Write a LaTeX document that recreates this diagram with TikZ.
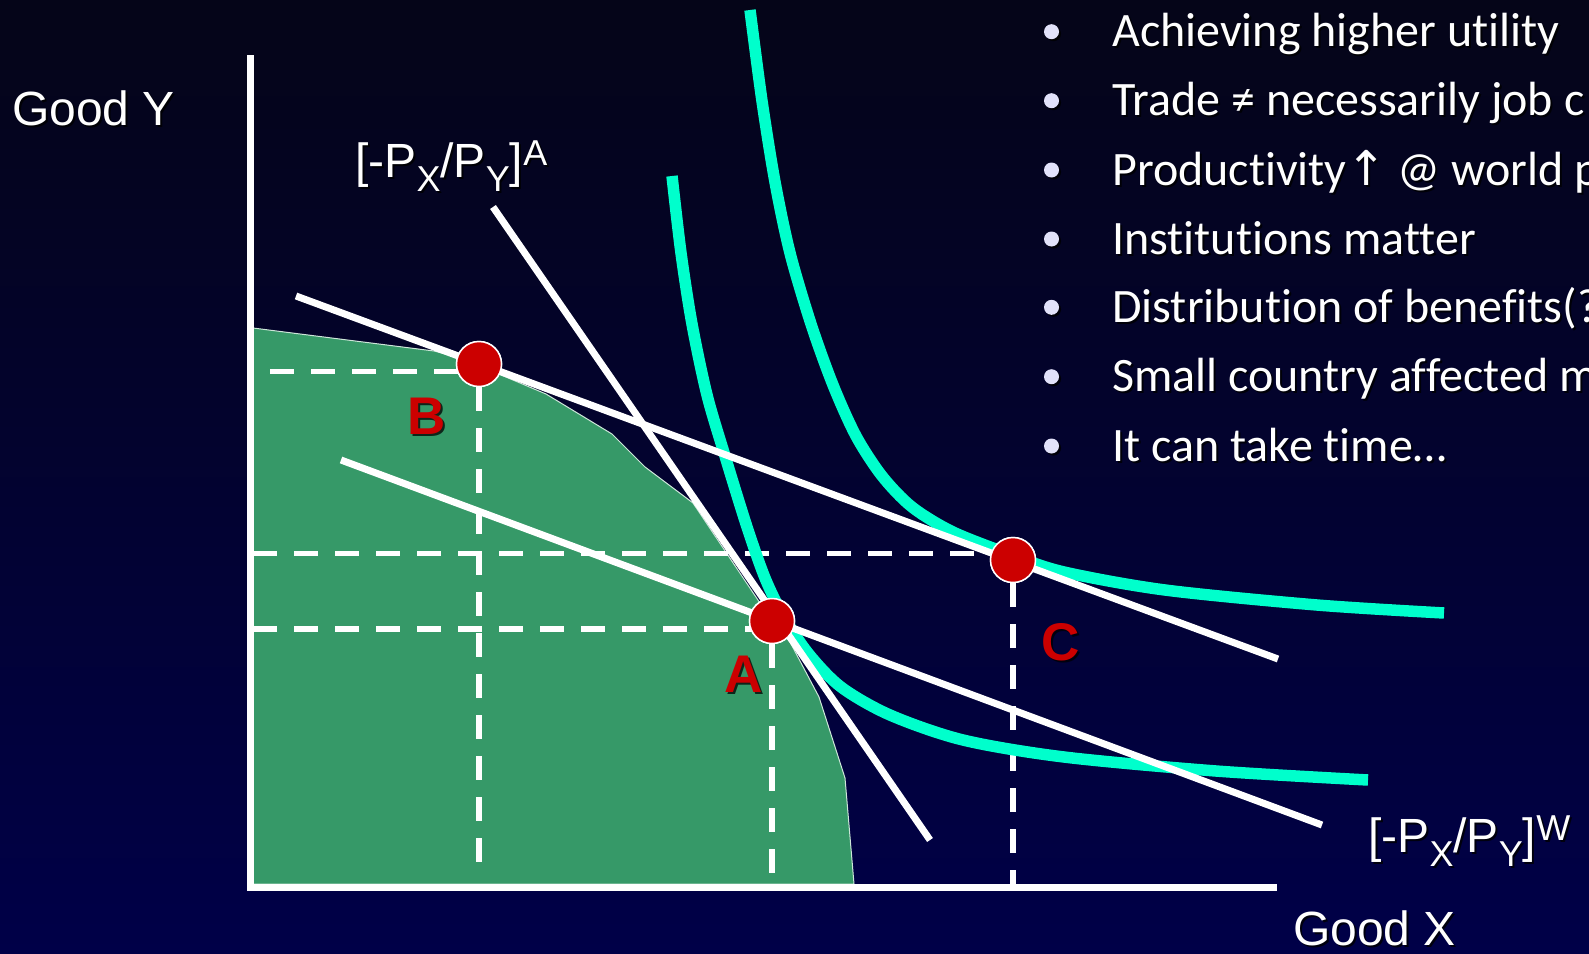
\documentclass[tikz,border=0pt]{standalone}
\usepackage{fontspec}
\setmainfont{Liberation Sans}
\newfontfamily\bulletfont[Ligatures={NoCommon}]{Carlito}
\newfontfamily\symfont{DejaVu Sans}
\definecolor{bgtop}{RGB}{5,5,24}
\definecolor{bgbot}{RGB}{0,0,72}
\definecolor{ppfgreen}{RGB}{54,153,104}
\definecolor{iccyan}{RGB}{0,255,204}
\definecolor{dotred}{RGB}{204,0,0}
\definecolor{dotlav}{RGB}{226,226,250}
\newcommand{\priceratio}[1]{[-P\raisebox{-14pt}{\fontsize{36}{38}\selectfont X}/P\raisebox{-14pt}{\fontsize{36}{38}\selectfont Y}]\raisebox{12pt}{\fontsize{36}{38}\selectfont #1}}
\begin{document}
\begin{tikzpicture}[x=1pt,y=-1pt,
  solidline/.style={draw=white,line width=7pt},
  axisline/.style={draw=white,line width=7pt},
  dashline/.style={draw=white,line width=5.5pt,dash pattern=on 24pt off 17pt},
  iccurve/.style={draw=iccyan,line width=11.5pt},
  ptdot/.style={circle,fill=dotred,draw=white,line width=1.5pt,minimum size=45pt,inner sep=0pt},
  ptlabel/.style={font=\fontsize{53}{60}\selectfont\bfseries,text=dotred,inner sep=0pt,anchor=base},
  ptshadow/.style={font=\fontsize{53}{60}\selectfont\bfseries,text=black,opacity=0.75,inner sep=0pt,anchor=base},
  axlabel/.style={font=\fontsize{48}{52}\selectfont,text=white,inner sep=0pt,anchor=base west},
  axshadow/.style={font=\fontsize{48}{52}\selectfont,text=black,opacity=0.8,inner sep=0pt,anchor=base west},
  btext/.style={font=\bulletfont\fontsize{48}{52}\selectfont,text=white,inner sep=0pt,anchor=base west},
  bshadow/.style={font=\bulletfont\fontsize{48}{52}\selectfont,text=black,opacity=0.8,inner sep=0pt,anchor=base west},
  bdot/.style={circle,fill=dotlav,minimum size=15pt,inner sep=0pt},
  bdotshadow/.style={circle,fill=black,opacity=0.8,minimum size=15pt,inner sep=0pt}
]
\useasboundingbox (0,0) rectangle (1589,953);
% background
\shade[top color=bgtop,bottom color=bgbot] (0,0) rectangle (1589,953);

% production possibility region
\fill[ppfgreen,draw=white!75!ppfgreen,line width=1pt]
  (253,328) -- (434,351) -- (461,358) -- (546,394) -- (612,434) -- (645,467)
  -- (693,503) -- (772,621) -- (790,642) -- (819,697) -- (845,778) -- (854,884)
  -- (253,884) -- cycle;

% points
\node[ptdot] (B) at (479,364) {};
\node[ptdot] (A) at (772,621) {};
\node[ptdot] (C) at (1013,560) {};

% coordinates
\coordinate (ytop) at (250,55);
\coordinate (orig) at (250,887);
\coordinate (xend) at (1277,887);
\coordinate (Bh) at (270,371.5);
\coordinate (Ch) at (253,553.5);
\coordinate (Ah) at (253,629);
\coordinate (Bv) at (477,869);
\coordinate (Av) at (774,887);
\coordinate (Cv) at (1012,887);
\coordinate (s1) at (493,207);
\coordinate (s2) at (930,840);
\coordinate (w1) at (296,296);
\coordinate (w2) at (1278,659);
\coordinate (w3) at (341,460);
\coordinate (w4) at (1322,825);

% dashed guides
\draw[dashline] (Bh) -- (Bh -| B);
\draw[dashline] (B) -- (B |- Bv);
\draw[dashline] (Ch) -- (Ch -| C);
\draw[dashline] (Ah) -- (Ah -| A);
\draw[dashline] (A) -- (A |- Av);
\draw[dashline] (C) -- (C |- Cv);

% indifference curves
\draw[iccurve] plot[smooth,tension=0.5] coordinates {
  (672,176) (681,253) (692,324) (707,395) (725,456) (747,527) (765,578)
  (783,615) (808,653) (841,687) (890,715) (963,740) (1064,757) (1216,771)
  (1368,780)};
\draw[iccurve] plot[smooth,tension=0.5] coordinates {
  (750,10) (762,101) (775,182) (790,253) (811,324) (833,385) (856,436)
  (882,476) (912,507) (953,532) (1012,555) (1064,572) (1165,590) (1317,605)
  (1444,613)};

% price lines
\draw[solidline] (s1) -- (s2);
\draw[solidline] (w1) -- (w2);
\draw[solidline] (w3) -- (w4);

% axes
\draw[axisline] (ytop) -- (orig) -- (xend);

% redraw points on top
\node[ptdot] (B2) at (B) {};
\node[ptdot] (A2) at (A) {};
\node[ptdot] (C2) at (C) {};

% point labels
\node[ptshadow] (Bls) at (428.5,436) {B};
\node[ptlabel] (Bl) at (426.5,434) {B};
\node[ptshadow] (Als) at (746,694) {A};
\node[ptlabel] (Al) at (744,692) {A};
\node[ptshadow] (Cls) at (1063,662) {C};
\node[ptlabel] (Cl) at (1061,660) {C};

% axis labels
\node[axshadow] (gys) at (14,127) {Good Y};
\node[axlabel] (gy) at (12,125) {Good Y};
\node[axshadow] (gxs) at (1295,947) {Good X};
\node[axlabel] (gx) at (1293,945) {Good X};
\node[axshadow] (pas) at (357,179) {\priceratio{A}};
\node[axlabel] (pa) at (355,177) {\priceratio{A}};
\node[axshadow] (pws) at (1370,854) {\priceratio{W}};
\node[axlabel] (pw) at (1368,852) {\priceratio{W}};

% bullet list
\foreach \i/\yb/\txt in {1/46.7/{Achieving higher utility},
  2/115.7/{Trade ≠ necessarily job c},
  3/185/{Productivity{\symfont ↑} @ world p},
  4/254/{Institutions matter},
  5/322.3/{Distribution of benefits(?},
  6/391.7/{Small country affected m},
  7/461/{It can take time…}}{
  \node[bdotshadow] (bs\i) at (1053.5,\yb-13) {};
  \node[bdot] (b\i) at (1051.5,\yb-15) {};
  \node[bshadow] (ts\i) at (1114,\yb+2) {\txt};
  \node[btext] (t\i) at (1112,\yb) {\txt};
}
\end{tikzpicture}
\end{document}
